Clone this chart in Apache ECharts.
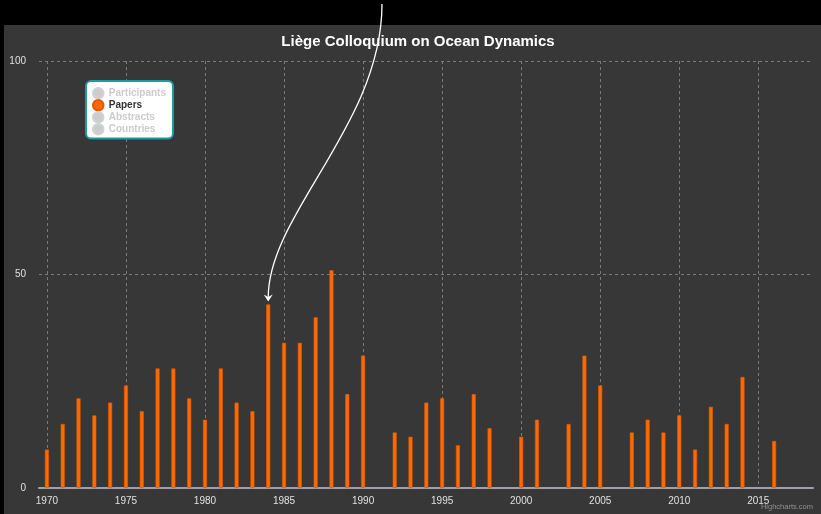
<!DOCTYPE html>
<html>
<head>
<meta charset="utf-8">
<script src="https://cdn.jsdelivr.net/npm/echarts@6/dist/echarts.min.js"></script>
<style>
html,body{margin:0;padding:0;background:#000;}
#c{width:821px;height:514px;}
</style>
</head>
<body>
<div id="c"></div>
<script>
const titleText = 'Liège Colloquium on Ocean Dynamics';
const seriesNames = ['Participants', 'Papers', 'Abstracts', 'Countries'];
const years = [1970,1971,1972,1973,1974,1975,1976,1977,1978,1979,1980,1981,1982,1983,1984,1985,1986,1987,1988,1989,1990,1992,1993,1994,1995,1996,1997,1998,2000,2001,2003,2004,2005,2007,2008,2009,2010,2011,2012,2013,2014,2016];
const papers = [9,15,21,17,20,24,18,28,28,21,16,28,20,18,43,34,34,40,51,22,31,13,12,20,21,10,22,14,12,16,15,31,24,13,16,13,17,9,19,15,26,11];
const xTicks = [1970,1975,1980,1985,1990,1995,2000,2005,2010,2015];
const yTicks = [0,50,100];
const arrowTarget = [1984, 43];

const chart = echarts.init(document.getElementById('c'), null, {renderer:'canvas'});
const font = 'Liberation Sans, Arial, sans-serif';
const paperData = years.map((y,i)=>[y, papers[i]]);

const series = seriesNames.map(name => ({
  name: name,
  type: 'bar',
  barWidth: 4,
  data: name === 'Papers' ? paperData : [],
  itemStyle: {color: '#ff6a00', borderColor: '#e05a00', borderWidth: 0.6},
  emphasis: {disabled: true},
  animation: false
}));

const selected = {};
seriesNames.forEach(n => selected[n] = (n === 'Papers'));

const baseGraphic = [
  {type:'rect', silent:true, z:-10, shape:{x:4, y:25, width:817, height:489}, style:{fill:'#373737'}},
  {type:'text', silent:true, right: 8, bottom: 3, style:{text:'Highcharts.com', fill:'#909090', font:'7.5px ' + font}}
];

chart.setOption({
  backgroundColor: '#000',
  animation: false,
  color: ['#ff6a00','#ff6a00','#ff6a00','#ff6a00'],
  title: {
    text: titleText,
    left: 413, top: 29, textAlign: 'center',
    textStyle: {color:'#ffffff', fontSize: 15, fontWeight: 'bold', fontFamily: font}
  },
  legend: {
    data: seriesNames.map(n => ({name: n, icon: 'circle'})),
    selected: selected,
    orient: 'vertical',
    left: 86, top: 81,
    backgroundColor: '#ffffff',
    borderColor: '#1b9e9e',
    borderWidth: 2,
    borderRadius: 5,
    padding: [6, 7, 3, 6],
    itemGap: -0.5,
    itemWidth: 11, itemHeight: 10.5,
    inactiveColor: '#cccccc',
    textStyle: {color:'#333333', fontSize: 10, fontWeight:'bold', fontFamily: font}
  },
  grid: {left: 39, right: 8, top: 61, bottom: 26, containLabel: false},
  xAxis: {
    type: 'value',
    min: 1969.5, max: 2018.46,
    axisLine: {show: true, onZero: false, lineStyle: {color: '#a0a0a8', width: 2}},
    axisTick: {show: false, customValues: xTicks},
    axisLabel: {customValues: xTicks, formatter: v => String(v), color: '#e0e0e0', fontSize: 10, fontFamily: font, margin: 8},
    splitLine: {show: true, lineStyle: {color: '#7a7a7a', type: [3,3], width: 1}}
  },
  yAxis: {
    type: 'value',
    min: 0, max: 100, interval: 50,
    axisLine: {show: false},
    axisTick: {show: false},
    axisLabel: {formatter: v => String(v), color: '#e0e0e0', fontSize: 10, fontFamily: font, margin: 13},
    splitLine: {show: true, lineStyle: {color: '#7a7a7a', type: [3,3], width: 1}}
  },
  series: series,
  graphic: baseGraphic
});

const p = chart.convertToPixel({gridIndex:0}, arrowTarget);
const tipX = p[0], tipY = p[1] - 3;
chart.setOption({
  graphic: baseGraphic.concat([
    {type:'bezierCurve', silent:true, z:100,
      shape:{x1:382, y1:4, cpx1:382, cpy1:124, cpx2:tipX, cpy2:214, x2:tipX, y2:tipY-4},
      style:{stroke:'#ffffff', lineWidth:1.3, fill:null}},
    {type:'polygon', silent:true, z:101,
      shape:{points:[[tipX, tipY],[tipX-4.5, tipY-7],[tipX, tipY-4.5],[tipX+4.5, tipY-7]]},
      style:{fill:'#ffffff'}}
  ])
}, {replaceMerge:['graphic']});
</script>
</body>
</html>
